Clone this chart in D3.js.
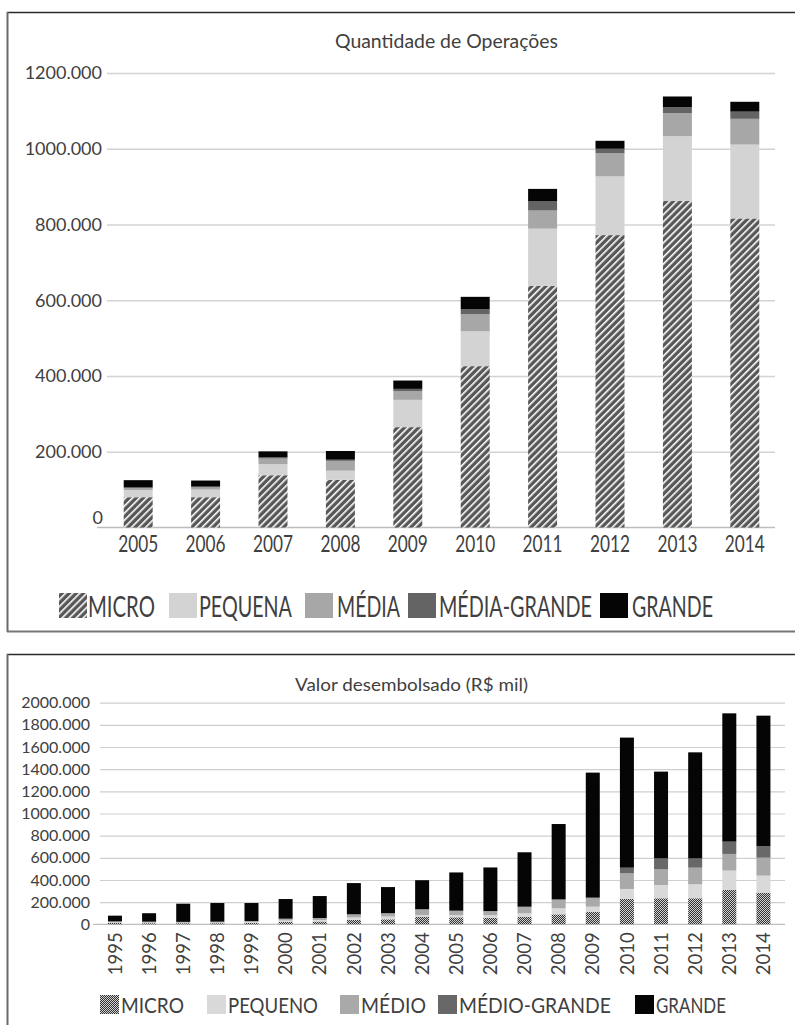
<!DOCTYPE html>
<html lang="pt-BR">
<head>
<meta charset="utf-8">
<title>Operações e desembolsos por porte</title>
<script src="https://cdn.jsdelivr.net/npm/d3@7"></script>
<style>
  html, body { margin: 0; padding: 0; background: #fff; }
  svg { display: block; }
  text { font-family: Lato, "Open Sans", sans-serif; fill: #404040; }
</style>
</head>
<body>
<svg id="fig" width="795" height="1025"></svg>
<script>
// ---- Quantidade de operações (em milhares) por porte da empresa ----
const anosOperacoes = ["2005", "2006", "2007", "2008", "2009", "2010", "2011", "2012", "2013", "2014"];
const opMicro        = [80, 80, 138, 126, 265, 426, 638, 772, 862, 816];
const opPequena      = [19, 20, 29, 24, 72, 92, 151, 155, 171, 195];
const opMedia        = [5, 6, 15, 26, 23, 45, 48, 61, 61, 68];
const opMediaGrande  = [2, 2, 3, 3, 6, 13, 25, 12, 16, 19];
const opGrande       = [19, 16, 16, 23, 22, 33, 32, 21, 28, 26];
const portesOperacoes = ["MICRO", "PEQUENA", "MÉDIA", "MÉDIA-GRANDE", "GRANDE"];
const ticksOperacoes = [0, 200, 400, 600, 800, 1000, 1200];

// ---- Valor desembolsado (R$ mil, em milhares) por porte da empresa ----
const anosValor = ["1995", "1996", "1997", "1998", "1999", "2000", "2001", "2002", "2003", "2004",
                   "2005", "2006", "2007", "2008", "2009", "2010", "2011", "2012", "2013", "2014"];
const valMicro       = [12, 10, 10, 10, 14, 22, 25, 40, 45, 69, 63, 60, 69, 90, 114, 229, 235, 235, 310, 286];
const valPequeno     = [6, 6, 5, 6, 7, 12, 14, 22, 25, 15, 20, 22, 30, 54, 45, 90, 120, 126, 175, 153];
const valMedio       = [6, 6, 5, 6, 7, 14, 15, 25, 27, 48, 36, 34, 55, 76, 76, 141, 141, 150, 150, 162];
const valMedioGrande = [3, 2, 2, 2, 2, 3, 3, 4, 4, 5, 4, 4, 5, 6, 6, 51, 99, 84, 111, 105];
const valGrande      = [51, 76, 164, 168, 162, 177, 198, 281, 235, 261, 345, 393, 491, 679, 1128, 1174, 783, 957, 1158, 1177];
const portesValor = ["MICRO", "PEQUENO", "MÉDIO", "MÉDIO-GRANDE", "GRANDE"];
const ticksValor = [0, 200, 400, 600, 800, 1000, 1200, 1400, 1600, 1800, 2000];

// tick labels as "1200.000" (thousands shown with a trailing ".000")
const rotulo = v => v === 0 ? "0" : `${v}.000`;

const svg = d3.select("#fig");

// narrow a text to a given width by scaling it horizontally around its start
function texto(g, x, y, str, tam, largura, ancora = "start") {
  const t = g.append("text").attr("font-size", tam).attr("text-anchor", ancora).text(str);
  const natural = t.node().getComputedTextLength();
  const sx = largura / natural;
  t.attr("transform", `translate(${x},${y}) scale(${sx},1)`);
  return t;
}

// fills: hatched micro (top), grainy micro (bottom), then flat greys
const defs = svg.append("defs");
const hach = defs.append("pattern").attr("id", "hachura")
  .attr("patternUnits", "userSpaceOnUse").attr("width", 5).attr("height", 5)
  .attr("patternTransform", "rotate(45)");
hach.append("rect").attr("width", 5).attr("height", 5).attr("fill", "#575757");
hach.append("rect").attr("width", 1.6).attr("height", 5).attr("fill", "#ffffff");

const grao = defs.append("pattern").attr("id", "grao")
  .attr("patternUnits", "userSpaceOnUse").attr("width", 2).attr("height", 2);
grao.append("rect").attr("width", 2).attr("height", 2).attr("fill", "#323232");
grao.append("rect").attr("width", 1).attr("height", 1).attr("fill", "#d2d2d2");
grao.append("rect").attr("x", 1).attr("y", 1).attr("width", 1).attr("height", 1).attr("fill", "#d2d2d2");

const coresOperacoes = ["url(#hachura)", "#d3d3d3", "#a7a7a7", "#646464", "#050505"];
const coresValor     = ["url(#grao)", "#d9d9d9", "#a9a9a9", "#686868", "#050505"];

// frames around each panel
const moldura = svg.append("g").attr("fill", "none");
moldura.append("line").attr("x1", 7).attr("x2", 795).attr("y1", 12.5).attr("y2", 12.5).attr("stroke", "#2a2a2a").attr("stroke-width", 1.3);
moldura.append("line").attr("x1", 7.5).attr("x2", 7.5).attr("y1", 12).attr("y2", 632).attr("stroke", "#6a6a6a").attr("stroke-width", 2);
moldura.append("line").attr("x1", 7).attr("x2", 795).attr("y1", 631.5).attr("y2", 631.5).attr("stroke", "#777").attr("stroke-width", 2);
moldura.append("line").attr("x1", 7).attr("x2", 795).attr("y1", 654.5).attr("y2", 654.5).attr("stroke", "#2a2a2a").attr("stroke-width", 1.3);
moldura.append("line").attr("x1", 7.5).attr("x2", 7.5).attr("y1", 654).attr("y2", 1025).attr("stroke", "#6a6a6a").attr("stroke-width", 2);

function empilhar(anos, series, portes) {
  const linhas = anos.map((a, i) => {
    const o = { ano: a };
    portes.forEach((p, k) => { o[p] = series[k][i]; });
    return o;
  });
  return d3.stack().keys(portes)(linhas);
}

// =================== Painel 1: Quantidade de Operações ===================
{
  const x = d3.scaleBand().domain(anosOperacoes).range([104.5, 778.5])
    .paddingInner(0.57).paddingOuter(0.285);
  const y = d3.scaleLinear().domain([0, 1200]).range([527.5, 73]);
  const g = svg.append("g");

  g.append("text").attr("x", 446.5).attr("y", 47.5).attr("text-anchor", "middle")
    .attr("font-size", 18.5).attr("textLength", 223).attr("lengthAdjust", "spacingAndGlyphs")
    .text("Quantidade de Operações");

  const eixoY = g.append("g").attr("transform", "translate(107,0)")
    .call(d3.axisLeft(y).tickValues(ticksOperacoes).tickFormat(rotulo)
      .tickSize(-(775 - 107)).tickPadding(5));
  eixoY.select(".domain").remove();
  eixoY.selectAll(".tick line").attr("stroke", "#d3d3d3").attr("stroke-width", 1.5)
    .filter(d => d === 0).remove();
  eixoY.selectAll(".tick text").attr("font-size", 18).attr("fill", "#404040")
    .attr("font-family", "Lato, 'Open Sans', sans-serif");
  eixoY.selectAll(".tick text").filter(d => d === 0).attr("x", -4).attr("dy", "-0.2em");

  g.append("line").attr("x1", 97).attr("x2", 775).attr("y1", y(0)).attr("y2", y(0))
    .attr("stroke", "#bdbdbd").attr("stroke-width", 1.5);

  const pilhas = empilhar(anosOperacoes, [opMicro, opPequena, opMedia, opMediaGrande, opGrande], portesOperacoes);
  g.selectAll("g.serie").data(pilhas).join("g").attr("class", "serie")
    .attr("fill", (d, i) => coresOperacoes[i])
    .selectAll("rect").data(d => d).join("rect")
    .attr("x", d => x(d.data.ano)).attr("width", x.bandwidth())
    .attr("y", d => y(d[1])).attr("height", d => y(d[0]) - y(d[1]));

  const eixoX = g.append("g").attr("transform", `translate(0,${y(0)})`)
    .call(d3.axisBottom(x).tickSize(0).tickPadding(0));
  eixoX.select(".domain").remove();
  eixoX.selectAll(".tick text").attr("y", 24).attr("dy", 0)
    .attr("font-size", 23).attr("textLength", 40).attr("lengthAdjust", "spacingAndGlyphs")
    .attr("fill", "#404040").attr("font-family", "Lato, 'Open Sans', sans-serif");

  // legend
  const legX = [59, 169, 305, 408, 600];
  const legTxtX = [88, 199, 337, 439, 632];
  const legTxtW = [67, 93, 63, 153, 81];
  const leg = g.append("g");
  portesOperacoes.forEach((p, i) => {
    leg.append("rect").attr("x", legX[i]).attr("y", 593).attr("width", 28).attr("height", 25)
      .attr("fill", coresOperacoes[i]);
    texto(leg, legTxtX[i], 617, p, 29, legTxtW[i]).attr("fill", "#383838");
  });
}

// =================== Painel 2: Valor desembolsado ===================
{
  const x = d3.scaleBand().domain(anosValor).range([97.9, 780.5])
    .paddingInner(0.59).paddingOuter(0.295);
  const y = d3.scaleLinear().domain([0, 2000]).range([924.3, 702.7]);
  const g = svg.append("g");

  g.append("text").attr("x", 411.5).attr("y", 691).attr("text-anchor", "middle")
    .attr("font-size", 17.5).attr("textLength", 233).attr("lengthAdjust", "spacingAndGlyphs")
    .text("Valor desembolsado (R$ mil)");

  const eixoY = g.append("g").attr("transform", "translate(100,0)")
    .call(d3.axisLeft(y).tickValues(ticksValor).tickFormat(rotulo)
      .tickSize(-(785 - 100)).tickPadding(10));
  eixoY.select(".domain").remove();
  eixoY.selectAll(".tick line").attr("stroke", "#cfcfcf").attr("stroke-width", 1.2)
    .filter(d => d === 0).remove();
  eixoY.selectAll(".tick text").attr("font-size", 16).attr("fill", "#404040")
    .attr("font-family", "Lato, 'Open Sans', sans-serif");

  g.append("line").attr("x1", 93).attr("x2", 785).attr("y1", y(0)).attr("y2", y(0))
    .attr("stroke", "#bdbdbd").attr("stroke-width", 1.3);

  const pilhas = empilhar(anosValor, [valMicro, valPequeno, valMedio, valMedioGrande, valGrande], portesValor);
  g.selectAll("g.serie").data(pilhas).join("g").attr("class", "serie")
    .attr("fill", (d, i) => coresValor[i])
    .selectAll("rect").data(d => d).join("rect")
    .attr("x", d => x(d.data.ano)).attr("width", x.bandwidth())
    .attr("y", d => y(d[1])).attr("height", d => y(d[0]) - y(d[1]));

  const eixoX = g.append("g").attr("transform", `translate(0,${y(0)})`)
    .call(d3.axisBottom(x).tickSize(0).tickPadding(0));
  eixoX.select(".domain").remove();
  eixoX.selectAll(".tick text")
    .attr("transform", "rotate(-90)").attr("text-anchor", "end")
    .attr("x", -8).attr("y", 0).attr("dy", "0.36em")
    .attr("font-size", 18.5).attr("fill", "#404040")
    .attr("font-family", "Lato, 'Open Sans', sans-serif");

  // legend
  const legX = [100, 207, 340, 438, 635];
  const legTxtX = [121, 228, 361, 459, 656];
  const legTxtW = [63, 90, 65, 152, 70];
  const leg = g.append("g");
  portesValor.forEach((p, i) => {
    leg.append("rect").attr("x", legX[i]).attr("y", 995).attr("width", 19).attr("height", 19)
      .attr("fill", coresValor[i]);
    texto(leg, legTxtX[i], 1013, p, 22, legTxtW[i]).attr("fill", "#383838");
  });
}
</script>
</body>
</html>
